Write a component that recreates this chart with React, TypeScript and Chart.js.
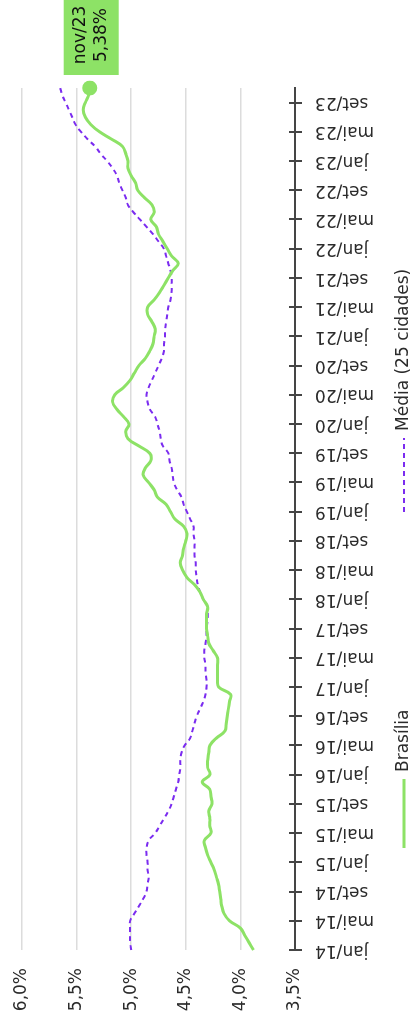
import React, { useEffect, useRef } from 'react';
import { Chart, registerables } from 'chart.js';

Chart.register(...registerables);

// ---------- data ----------
const MONTHS = ['jan', 'fev', 'mar', 'abr', 'mai', 'jun', 'jul', 'ago', 'set', 'out', 'nov', 'dez'];
const YEARS = ['14', '15', '16', '17', '18', '19', '20', '21', '22', '23'];
const LAST_MONTH = 'nov';
const TICK_MONTHS = ['jan', 'mai', 'set'];

const CATEGORIES: string[] = [];
for (const yy of YEARS) {
  for (const m of MONTHS) {
    CATEGORIES.push(`${m}/${yy}`);
    if (yy === YEARS[YEARS.length - 1] && m === LAST_MONTH) break;
  }
}

const SERIES_NAMES = ['Brasília', 'Média (25 cidades)'];

const BRASILIA = [
  3.88, 3.92, 3.96, 4.0, 4.1, 4.15, 4.17, 4.18, 4.19, 4.2,
  4.22, 4.24, 4.27, 4.3, 4.32, 4.33, 4.27, 4.28, 4.28, 4.29,
  4.26, 4.27, 4.28, 4.35, 4.28, 4.3, 4.3, 4.29, 4.28, 4.22,
  4.14, 4.13, 4.12, 4.11, 4.1, 4.09, 4.2, 4.21, 4.21, 4.21,
  4.21, 4.25, 4.29, 4.3, 4.31, 4.31, 4.31, 4.3, 4.34, 4.37,
  4.42, 4.49, 4.53, 4.55, 4.53, 4.52, 4.5, 4.49, 4.52, 4.6,
  4.64, 4.68, 4.76, 4.79, 4.84, 4.89, 4.87, 4.82, 4.83, 4.93,
  5.03, 5.05, 5.02, 5.07, 5.13, 5.17, 5.15, 5.07, 5.01, 4.97,
  4.93, 4.87, 4.83, 4.8, 4.79, 4.78, 4.81, 4.85, 4.85, 4.79,
  4.74, 4.7, 4.66, 4.62, 4.57, 4.63, 4.67, 4.71, 4.75, 4.77,
  4.82, 4.79, 4.81, 4.88, 4.94, 4.96, 5.0, 5.03, 5.03, 5.05,
  5.08, 5.18, 5.29, 5.37, 5.42, 5.44, 5.42, 5.39, 5.38,
];

const MEDIA = [
  5.0, 5.01, 5.01, 5.01, 5.01, 4.97, 4.93, 4.89, 4.86, 4.85,
  4.84, 4.85, 4.85, 4.86, 4.86, 4.84, 4.78, 4.74, 4.7, 4.66,
  4.63, 4.61, 4.59, 4.57, 4.56, 4.55, 4.55, 4.54, 4.51, 4.46,
  4.44, 4.42, 4.4, 4.37, 4.34, 4.32, 4.31, 4.31, 4.32, 4.32,
  4.33, 4.33, 4.32, 4.31, 4.31, 4.3, 4.3, 4.3, 4.34, 4.37,
  4.39, 4.4, 4.41, 4.41, 4.42, 4.42, 4.42, 4.43, 4.43, 4.46,
  4.49, 4.52, 4.54, 4.58, 4.61, 4.62, 4.63, 4.65, 4.66, 4.71,
  4.73, 4.74, 4.76, 4.78, 4.83, 4.85, 4.86, 4.84, 4.81, 4.78,
  4.75, 4.72, 4.7, 4.7, 4.69, 4.69, 4.68, 4.67, 4.66, 4.64,
  4.63, 4.63, 4.63, 4.64, 4.66, 4.68, 4.7, 4.75, 4.8, 4.86,
  4.92, 4.98, 5.03, 5.05, 5.08, 5.11, 5.13, 5.17, 5.22, 5.28,
  5.33, 5.4, 5.46, 5.51, 5.54, 5.57, 5.6, 5.63, 5.65,
];

const Y_MIN = 3.5;
const Y_MAX = 6.0;
const Y_STEP = 0.5;

// ---------- styles ----------
const GREEN = '#8de266';
const PURPLE = '#7b2cf0';
const AXIS = '#454545';
const GRID = '#dcdcdc';
const TEXT = '#2b2b2b';
const FONT = '"DejaVu Sans", sans-serif';
const FONT_SIZE = 17;

const W = 1026;
const H = 412;

const fmtPct = (v: number) => v.toFixed(Number.isInteger(v * 10) ? 1 : 2).replace('.', ',') + '%';

const isTickIndex = (i: number) => TICK_MONTHS.includes(CATEGORIES[i].split('/')[0]);

const tickCrossPlugin = {
  id: 'tickCross',
  afterDraw(chart: any) {
    const xs = chart.scales.x;
    const yb = chart.chartArea.bottom;
    const ctx = chart.ctx;
    ctx.save();
    ctx.strokeStyle = AXIS;
    ctx.lineWidth = 2;
    xs.ticks.forEach((t: any, i: number) => {
      if (!t.label) return;
      const px = Math.round(xs.getPixelForTick(i));
      ctx.beginPath();
      ctx.moveTo(px, yb - 6);
      ctx.lineTo(px, yb + 7);
      ctx.stroke();
    });
    ctx.restore();
  },
};

const endLabelPlugin = {
  id: 'endLabel',
  afterDatasetsDraw(chart: any) {
    const meta = chart.getDatasetMeta(0);
    const last = meta.data.length - 1;
    const pt = meta.data[last];
    const ctx = chart.ctx;
    ctx.save();
    ctx.fillStyle = GREEN;
    ctx.fillRect(pt.x + 13, pt.y - 26, 76, 55);
    ctx.fillStyle = '#111';
    ctx.font = `${FONT_SIZE}px ${FONT}`;
    ctx.textAlign = 'center';
    ctx.textBaseline = 'middle';
    ctx.fillText(CATEGORIES[last], pt.x + 53, pt.y - 9);
    ctx.fillText(fmtPct(BRASILIA[last]), pt.x + 53, pt.y + 12);
    ctx.restore();
  },
};

const legendPlugin = {
  id: 'customLegend',
  afterDraw(chart: any) {
    const ctx = chart.ctx;
    const y = 404;
    const items = [
      { text: SERIES_NAMES[0], color: GREEN, dash: [] as number[], width: 3, start: 178, len: 69 },
      { text: SERIES_NAMES[1], color: PURPLE, dash: [5, 4], width: 2, start: 514, len: 74 },
    ];
    ctx.save();
    ctx.font = `${FONT_SIZE}px ${FONT}`;
    ctx.textBaseline = 'middle';
    ctx.textAlign = 'left';
    items.forEach((it) => {
      ctx.strokeStyle = it.color;
      ctx.lineWidth = it.width;
      ctx.setLineDash(it.dash);
      ctx.beginPath();
      ctx.moveTo(it.start, y);
      ctx.lineTo(it.start + it.len, y);
      ctx.stroke();
      ctx.setLineDash([]);
      ctx.fillStyle = TEXT;
      ctx.fillText(it.text, it.start + it.len + 7, y);
    });
    ctx.restore();
  },
};

export default function App() {
  const ref = useRef<HTMLCanvasElement>(null);

  useEffect(() => {
    if (!ref.current) return;
    const last = BRASILIA.length - 1;
    const chart = new Chart(ref.current, {
      type: 'line',
      data: {
        labels: CATEGORIES,
        datasets: [
          {
            label: SERIES_NAMES[0],
            data: BRASILIA,
            borderColor: GREEN,
            backgroundColor: GREEN,
            borderWidth: 3,
            tension: 0.4,
            pointRadius: (c: any) => (c.dataIndex === last ? 7.5 : 0),
            pointBackgroundColor: GREEN,
            pointBorderWidth: 0,
            fill: false,
          },
          {
            label: SERIES_NAMES[1],
            data: MEDIA,
            borderColor: PURPLE,
            backgroundColor: PURPLE,
            borderWidth: 2,
            borderDash: [5, 4],
            tension: 0.4,
            pointRadius: 0,
            fill: false,
          },
        ],
      },
      options: {
        responsive: false,
        animation: false,
        devicePixelRatio: 1,
        layout: { padding: { top: 22, right: 88, bottom: 0, left: 0 } },
        plugins: {
          legend: { display: false },
          tooltip: { enabled: false },
          title: { display: false },
        },
        scales: {
          x: {
            type: 'category',
            grid: { display: false },
            border: { display: true, color: AXIS, width: 2 },
            ticks: {
              autoSkip: false,
              minRotation: 90,
              maxRotation: 90,
              padding: 12,
              color: TEXT,
              font: { family: FONT, size: FONT_SIZE },
              callback: (_v: any, i: number) => (isTickIndex(i) ? CATEGORIES[i] : ''),
            },
            afterFit: (s: any) => {
              s.height = 117;
            },
          },
          y: {
            min: Y_MIN,
            max: Y_MAX,
            grid: { color: GRID, lineWidth: 1.5, drawTicks: false },
            border: { display: false },
            ticks: {
              stepSize: Y_STEP,
              padding: 18,
              color: TEXT,
              font: { family: FONT, size: FONT_SIZE },
              callback: (v: any) => Number(v).toFixed(1).replace('.', ',') + '%',
            },
            afterFit: (s: any) => {
              s.width = 76;
              s.paddingTop = 0;
              s.paddingBottom = 0;
            },
          },
        },
      },
      plugins: [tickCrossPlugin, endLabelPlugin, legendPlugin],
    } as any);
    return () => chart.destroy();
  }, []);

  return (
    <div
      style={{
        position: 'fixed',
        left: 0,
        top: 0,
        width: W,
        height: H,
        background: '#ffffff',
        transformOrigin: '0 0',
        transform: `translateY(${W}px) rotate(-90deg)`,
      }}
    >
      <canvas ref={ref} width={W} height={H} style={{ display: 'block', width: W, height: H }} />
    </div>
  );
}
